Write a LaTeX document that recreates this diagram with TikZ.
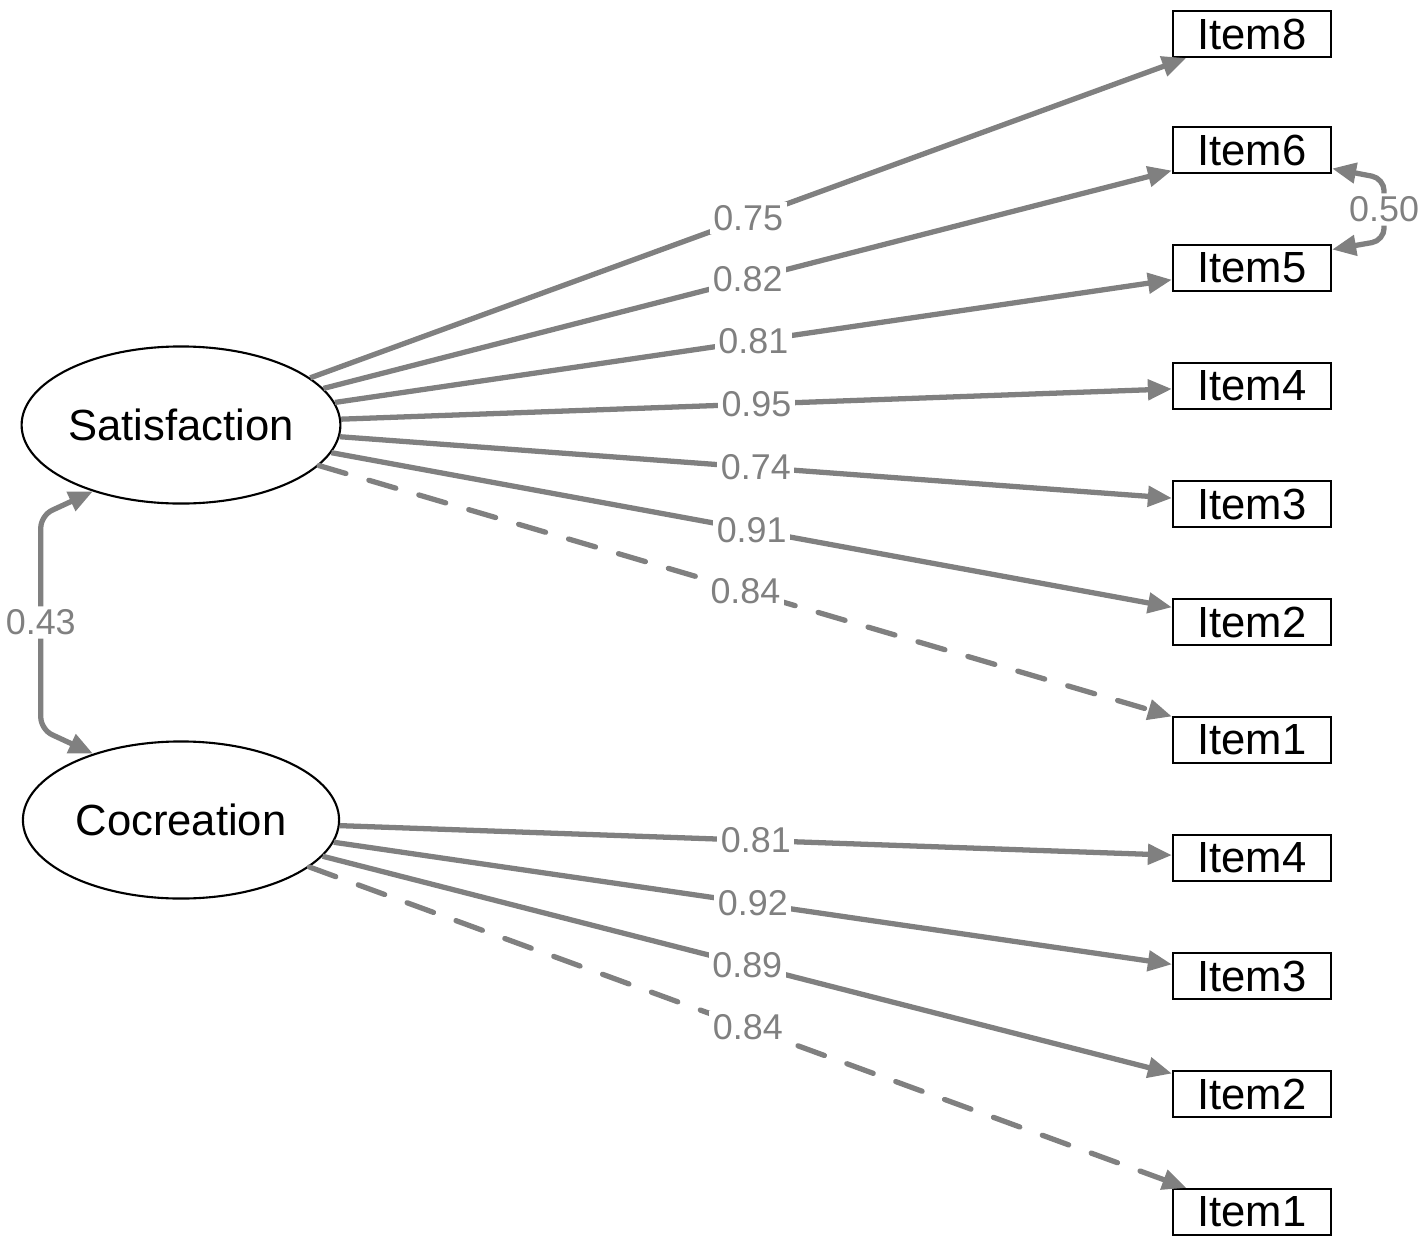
\documentclass[tikz,border=0pt]{standalone}
\usepackage{fontspec}
\setmainfont{Liberation Sans}
\usepackage{tikz}
\usetikzlibrary{arrows.meta,shapes.geometric,positioning}
\usepackage{xcolor}
\definecolor{edgegray}{RGB}{128,128,128}

\begin{document}
\begin{tikzpicture}[x=0.01cm, y=-0.01cm,
    latent/.style={draw, ellipse, line width=0.6pt, inner sep=0pt, minimum width=3.16cm, minimum height=1.57cm, font=\fontsize{12.4}{14}\selectfont},
    item/.style={draw, rectangle, line width=0.6pt, minimum width=1.58cm, minimum height=0.46cm, inner sep=0pt, font=\fontsize{12.4}{14}\selectfont},
    load/.style={draw=edgegray, line width=1.5pt, -{Triangle[length=0.24cm, width=0.2cm]}},
    fixed/.style={load, line cap=round, dash pattern=on 0.28cm off 0.24cm},
    cov/.style={draw=edgegray, line width=1.5pt, rounded corners=3.5pt, {Triangle[length=0.24cm, width=0.2cm]}-{Triangle[length=0.24cm, width=0.2cm]}},
    lbl/.style={fill=white, text=edgegray, inner sep=1pt, font=\fontsize{10.2}{12}\selectfont}]
    \useasboundingbox (0,0) rectangle (1426,1245);

    % Latent variables
    \node[latent] (sat) at (181,425) {Satisfaction};
    \node[latent] (coc) at (181,820) {Cocreation};

    % Satisfaction items
    \node[item] (s8) at (1252,34) {Item8};
    \node[item] (s6) at (1252,150) {Item6};
    \node[item] (s5) at (1252,268) {Item5};
    \node[item] (s4) at (1252,386) {Item4};
    \node[item] (s3) at (1252,504) {Item3};
    \node[item] (s2) at (1252,622) {Item2};
    \node[item] (s1) at (1252,740) {Item1};

    % Cocreation items
    \node[item] (c4) at (1252,858) {Item4};
    \node[item] (c3) at (1252,976) {Item3};
    \node[item] (c2) at (1252,1094) {Item2};
    \node[item] (c1) at (1252,1212) {Item1};

    % Satisfaction loadings
    \draw[load] (sat) -- node[lbl] {0.75} (s8);
    \draw[load] (sat) -- node[lbl] {0.82} (s6);
    \draw[load] (sat) -- node[lbl] {0.81} (s5);
    \draw[load] (sat) -- node[lbl] {0.95} (s4);
    \draw[load] (sat) -- node[lbl] {0.74} (s3);
    \draw[load] (sat) -- node[lbl] {0.91} (s2);
    \draw[fixed] (sat) -- node[lbl] {0.84} (s1);

    % Cocreation loadings
    \draw[load] (coc) -- node[lbl] {0.81} (c4);
    \draw[load] (coc) -- node[lbl] {0.92} (c3);
    \draw[load] (coc) -- node[lbl] {0.89} (c2);
    \draw[fixed] (coc) -- node[lbl] {0.84} (c1);

    % Covariances
    \draw[cov] (sat.217) -- ++(-52,24) -- ++(0,214) node[lbl, midway] {0.43} -- (coc.143);
    \draw[cov] (s6.-13) -- ++(52,10) -- ++(0,62) node[lbl, midway] {0.50} -- (s5.13);
\end{tikzpicture}
\end{document}
